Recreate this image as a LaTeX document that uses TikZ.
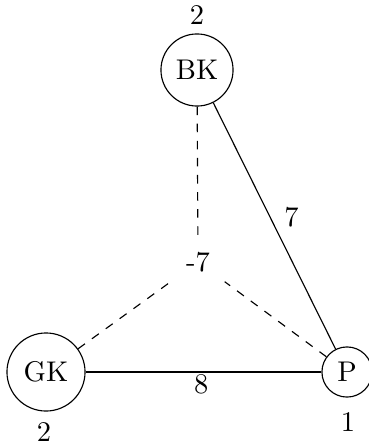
\documentclass[tikz,border=0pt]{standalone}
\begin{document}
\begin{tikzpicture}[x=0.351pt,y=-0.351pt,
  vert/.style={circle,draw,inner sep=0pt},
  lbl/.style={inner sep=1pt},
  hid/.style={dashed}]
\useasboundingbox (0,0) rectangle (369,444);
\node[vert,minimum size=25.3pt] (BK) at (197,70) {BK};
\node[vert,minimum size=27.4pt] (GK) at (46,372) {GK};
\node[vert,minimum size=17.6pt] (P) at (347,372) {P};
\node[inner sep=5pt] (C) at (198,262) {-7};
\node[lbl] (wBK) at (197,15) {2};
\node[lbl] (wGK) at (44,432) {2};
\node[lbl] (wP) at (348,422) {1};
\draw (BK) -- node[lbl,pos=0.5,xshift=6pt,yshift=3pt] (e1) {7} (P);
\draw (GK) -- node[lbl,pos=0.49,yshift=-4.5pt] (e2) {8} (P);
\draw[hid] (BK) -- (C);
\draw[hid] (GK) -- (C);
\draw[hid] (P) -- (C);
\end{tikzpicture}
\end{document}
